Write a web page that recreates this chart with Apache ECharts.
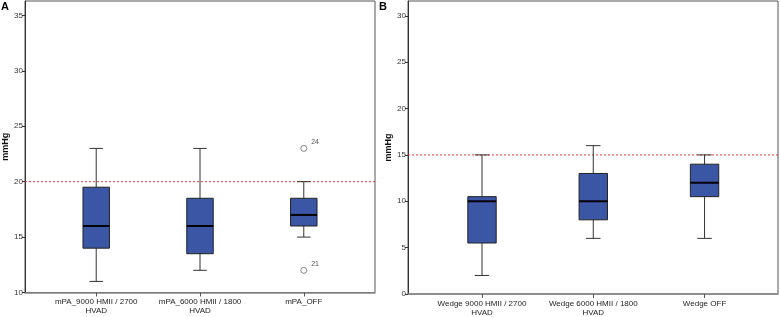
<!DOCTYPE html>
<html>
<head>
<meta charset="utf-8">
<script src="https://cdn.jsdelivr.net/npm/echarts@6/dist/echarts.min.js"></script>
<style>
  html, body { margin: 0; padding: 0; background: #fff; }
  #chart { width: 780px; height: 317px; }
</style>
</head>
<body>
<div id="chart"></div>
<script>
// panel A: mPA
var catsA = ['mPA_9000 HMII / 2700\nHVAD', 'mPA_6000 HMII / 1800\nHVAD', 'mPA_OFF'];
var lowA = [11, 12, 15];
var q1A = [14, 13.5, 16];
var medA = [16, 16, 17];
var q3A = [19.5, 18.5, 18.5];
var highA = [23, 23, 20];
var outA = [[2, 23, '24'], [2, 12, '21']];
var ticksA = [10, 15, 20, 25, 30, 35];
var refA = 20;

// panel B: Wedge
var catsB = ['Wedge 9000 HMII / 2700\nHVAD', 'Wedge 6000 HMII / 1800\nHVAD', 'Wedge OFF'];
var lowB = [2, 6, 6];
var q1B = [5.5, 8, 10.5];
var medB = [10, 10, 12];
var q3B = [10.5, 13, 14];
var highB = [15, 16, 15];
var ticksB = [0, 5, 10, 15, 20, 25, 30];
var refB = 15;

var xRangeA = [-0.686, 2.686];
var xRangeB = [-0.665, 2.66];

var BOX_W = 0.255;
var CAP_W = 0.13;
var FONT = 'Liberation Sans, Arial, sans-serif';

function boxRows(low, q1, med, q3, high) {
  return low.map(function (v, i) { return [i, v, q1[i], med[i], q3[i], high[i]]; });
}

function renderBox(params, api) {
  var x = api.value(0);
  var lo = api.coord([x, api.value(1)]);
  var a = api.coord([x, api.value(2)]);
  var m = api.coord([x, api.value(3)]);
  var b = api.coord([x, api.value(4)]);
  var hi = api.coord([x, api.value(5)]);
  var bw = api.size([BOX_W, 0])[0];
  var cw = api.size([CAP_W, 0])[0];
  var lineStyle = { stroke: '#333', lineWidth: 1 };
  return {
    type: 'group',
    children: [
      { type: 'line', shape: { x1: lo[0], y1: lo[1], x2: lo[0], y2: a[1] }, style: lineStyle },
      { type: 'line', shape: { x1: hi[0], y1: b[1], x2: hi[0], y2: hi[1] }, style: lineStyle },
      { type: 'line', shape: { x1: lo[0] - cw / 2, y1: lo[1], x2: lo[0] + cw / 2, y2: lo[1] }, style: lineStyle },
      { type: 'line', shape: { x1: hi[0] - cw / 2, y1: hi[1], x2: hi[0] + cw / 2, y2: hi[1] }, style: lineStyle },
      { type: 'rect', shape: { x: a[0] - bw / 2, y: b[1], width: bw, height: a[1] - b[1] },
        style: { fill: '#3c56a6', stroke: '#222', lineWidth: 1 } },
      { type: 'line', shape: { x1: m[0] - bw / 2, y1: m[1], x2: m[0] + bw / 2, y2: m[1] },
        style: { stroke: '#000', lineWidth: 2 } }
    ]
  };
}

function xAxisFor(cats, gridIndex, range) {
  return {
    type: 'value', gridIndex: gridIndex, min: range[0], max: range[1],
    splitLine: { show: false },
    axisLine: { onZero: false, lineStyle: { color: '#888', width: 1.5 } },
    axisTick: { customValues: [0, 1, 2], length: 4, lineStyle: { color: '#555' } },
    axisLabel: {
      customValues: [0, 1, 2], formatter: function (v) { return cats[Math.round(v)]; },
      fontFamily: FONT, fontSize: 8, color: '#222', lineHeight: 9, margin: 5
    }
  };
}

function yAxisFor(ticks, gridIndex, min, max) {
  return {
    type: 'value', gridIndex: gridIndex, min: min, max: max, interval: 5,
    name: 'mmHg', nameLocation: 'middle', nameGap: 13, nameRotate: 90,
    nameTextStyle: { fontFamily: FONT, fontSize: 9, fontWeight: 'bold', color: '#111' },
    splitLine: { show: false },
    axisLine: { show: true, onZero: false, lineStyle: { color: '#333', width: 1 } },
    axisTick: { customValues: ticks, length: 3, lineStyle: { color: '#333' } },
    axisLabel: { customValues: ticks, fontFamily: FONT, fontSize: 8, color: '#333', margin: 2 }
  };
}

// dotted red reference line across the whole plot
function refSeries(v, idx, range) {
  return {
    type: 'line', xAxisIndex: idx, yAxisIndex: idx, silent: true, symbol: 'none',
    data: [[range[0], v], [range[1], v]],
    lineStyle: { color: '#e03c3c', type: [2, 2], width: 1 },
    z: 2
  };
}

var chart = echarts.init(document.getElementById('chart'));
chart.setOption({
  animation: false,
  grid: [
    { left: 25, top: 1, width: 350, bottom: 24.5, show: true, borderColor: '#555', borderWidth: 1 },
    { left: 408, top: 1, right: 2, bottom: 23, show: true, borderColor: '#555', borderWidth: 1 }
  ],
  xAxis: [
    xAxisFor(catsA, 0, xRangeA),
    xAxisFor(catsB, 1, xRangeB)
  ],
  yAxis: [
    yAxisFor(ticksA, 0, 10, 36.3),
    yAxisFor(ticksB, 1, 0, 31.6)
  ],
  graphic: [
    { type: 'text', left: 1, top: 1, style: { text: 'A', font: 'bold 11px ' + FONT, fill: '#000' } },
    { type: 'text', left: 379, top: 1, style: { text: 'B', font: 'bold 11px ' + FONT, fill: '#000' } }
  ],
  series: [
    refSeries(refA, 0, xRangeA),
    refSeries(refB, 1, xRangeB),
    { type: 'custom', xAxisIndex: 0, yAxisIndex: 0, renderItem: renderBox,
      data: boxRows(lowA, q1A, medA, q3A, highA), z: 3 },
    { type: 'scatter', xAxisIndex: 0, yAxisIndex: 0, symbol: 'circle', symbolSize: 6,
      itemStyle: { color: '#fff', borderColor: '#444', borderWidth: 0.8 },
      label: { show: true, position: 'right', offset: [-1, -6], fontFamily: FONT, fontSize: 7, color: '#222',
        formatter: function (p) { return p.data[2]; } },
      data: outA, z: 4 },
    { type: 'custom', xAxisIndex: 1, yAxisIndex: 1, renderItem: renderBox,
      data: boxRows(lowB, q1B, medB, q3B, highB), z: 3 }
  ]
});
</script>
</body>
</html>
